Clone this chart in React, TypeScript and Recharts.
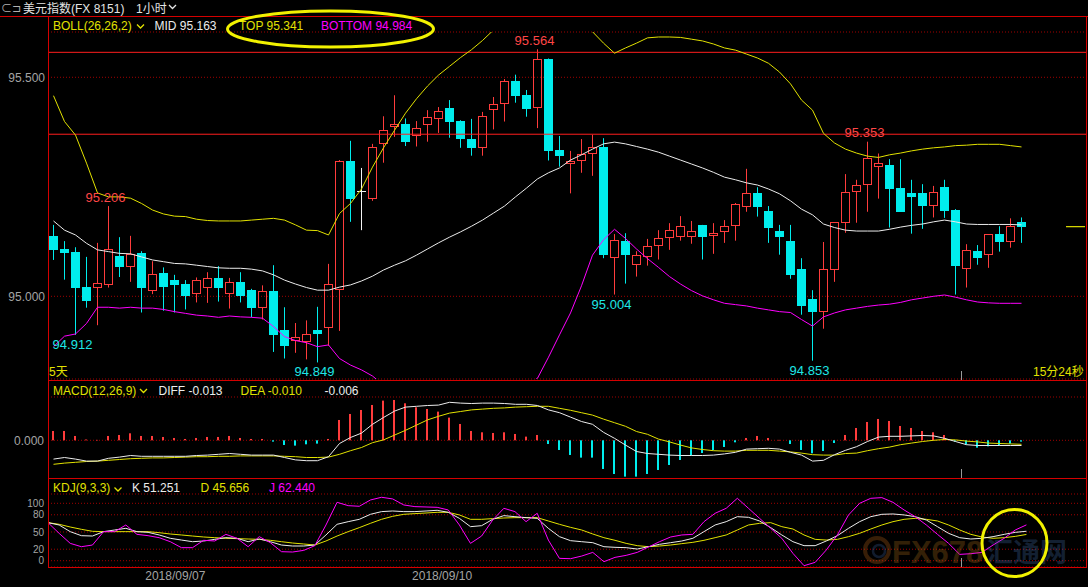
import React from 'react';
import { ComposedChart, Bar, Line, XAxis, YAxis, CartesianGrid, ReferenceLine, ReferenceDot } from 'recharts';

const FONT = '"Liberation Sans", Arial, "Noto Sans CJK SC", sans-serif';
const RED = '#ff3c3c';
const CYAN = '#00eded';
const YELLOW = '#e2e200';
const MAGENTA = '#ff00ff';
const WHITE = '#ececec';
const GRAY = '#a4a4a4';
const FRAME = '#d40000';
const GRID = '#a00000';

const opens = [95.138, 95.108, 95.101, 95.021, 95.018, 95.025, 95.092, 95.068, 95.098, 95.013,
  95.053, 95.037, 95.028, 95.005, 95.018, 95.041, 95.006, 95.032, 95.014, 94.974,
  95.012, 94.922, 94.898, 94.896, 94.923, 94.928, 95.014, 95.309, 95.241, 95.223,
  95.348, 95.387, 95.393, 95.367, 95.392, 95.405, 95.430, 95.400, 95.359, 95.339,
  95.425, 95.438, 95.491, 95.459, 95.429, 95.541, 95.334, 95.301, 95.310, 95.324,
  95.341, 95.087, 95.126, 95.072, 95.089, 95.114, 95.132, 95.135, 95.136, 95.163,
  95.137, 95.146, 95.160, 95.203, 95.235, 95.195, 95.149, 95.126, 95.062, 94.994,
  94.965, 95.061, 95.168, 95.237, 95.253, 95.295, 95.300, 95.247, 95.236, 95.236,
  95.207, 95.250, 95.197, 95.062, 95.103, 95.094, 95.142, 95.125, 95.169];
const highs = [95.163, 95.126, 95.112, 95.090, 95.122, 95.206, 95.135, 95.138, 95.103, 95.080,
  95.066, 95.049, 95.037, 95.043, 95.055, 95.069, 95.042, 95.055, 95.017, 95.025,
  95.071, 94.975, 94.939, 94.945, 94.976, 95.074, 95.311, 95.355, 95.293, 95.348,
  95.411, 95.459, 95.406, 95.400, 95.425, 95.432, 95.448, 95.402, 95.405, 95.421,
  95.455, 95.496, 95.506, 95.471, 95.564, 95.543, 95.366, 95.332, 95.359, 95.369,
  95.361, 95.142, 95.144, 95.103, 95.131, 95.151, 95.167, 95.183, 95.172, 95.163,
  95.167, 95.174, 95.213, 95.291, 95.249, 95.206, 95.163, 95.163, 95.087, 95.014,
  95.124, 95.169, 95.279, 95.266, 95.353, 95.326, 95.313, 95.313, 95.266, 95.256,
  95.252, 95.266, 95.199, 95.119, 95.117, 95.142, 95.160, 95.178, 95.180];
const lows = [95.083, 95.038, 94.912, 94.974, 94.934, 95.020, 95.044, 95.033, 94.963, 95.005,
  94.967, 94.963, 94.970, 94.986, 94.985, 94.988, 94.972, 94.986, 94.952, 94.947,
  94.873, 94.858, 94.871, 94.856, 94.849, 94.887, 94.921, 95.170, 95.151, 95.218,
  95.305, 95.364, 95.343, 95.342, 95.353, 95.373, 95.362, 95.339, 95.321, 95.321,
  95.381, 95.399, 95.442, 95.410, 95.384, 95.310, 95.296, 95.235, 95.282, 95.275,
  95.087, 95.004, 95.029, 95.045, 95.070, 95.084, 95.106, 95.127, 95.120, 95.084,
  95.097, 95.122, 95.127, 95.193, 95.182, 95.122, 95.095, 95.040, 94.958, 94.853,
  94.926, 95.033, 95.145, 95.168, 95.193, 95.223, 95.157, 95.193, 95.143, 95.154,
  95.180, 95.179, 95.004, 95.020, 95.072, 95.065, 95.102, 95.111, 95.122];
const closes = [95.106, 95.099, 95.020, 94.990, 95.030, 95.107, 95.068, 95.097, 95.020, 95.050,
  95.022, 95.026, 95.001, 95.037, 95.041, 95.020, 95.032, 95.001, 94.974, 95.011,
  94.912, 94.886, 94.906, 94.913, 94.914, 95.027, 95.308, 95.222, 95.241, 95.340,
  95.380, 95.393, 95.353, 95.384, 95.409, 95.423, 95.399, 95.358, 95.339, 95.411,
  95.438, 95.491, 95.458, 95.428, 95.541, 95.332, 95.321, 95.310, 95.326, 95.340,
  95.095, 95.128, 95.095, 95.094, 95.114, 95.132, 95.151, 95.160, 95.148, 95.136,
  95.144, 95.160, 95.210, 95.235, 95.205, 95.157, 95.136, 95.049, 94.979, 94.965,
  95.062, 95.169, 95.237, 95.253, 95.315, 95.304, 95.246, 95.193, 95.227, 95.207,
  95.237, 95.195, 95.070, 95.105, 95.088, 95.142, 95.125, 95.160, 95.159];

const bollMid = [95.172, 95.151, 95.140, 95.121, 95.106, 95.102, 95.098, 95.097, 95.090, 95.083,
  95.079, 95.075, 95.074, 95.071, 95.068, 95.065, 95.064, 95.064, 95.062, 95.058,
  95.049, 95.037, 95.028, 95.020, 95.014, 95.014, 95.021, 95.026, 95.035, 95.046,
  95.060, 95.071, 95.081, 95.094, 95.108, 95.122, 95.135, 95.147, 95.160, 95.174,
  95.190, 95.206, 95.227, 95.247, 95.268, 95.282, 95.293, 95.311, 95.323, 95.336,
  95.348, 95.352, 95.348, 95.342, 95.336, 95.329, 95.320, 95.311, 95.302, 95.293,
  95.283, 95.272, 95.266, 95.259, 95.254, 95.245, 95.234, 95.218, 95.199, 95.186,
  95.165, 95.157, 95.151, 95.149, 95.149, 95.149, 95.153, 95.158, 95.162, 95.165,
  95.170, 95.174, 95.170, 95.165, 95.164, 95.164, 95.164, 95.164, 95.163];
const bollTop = [95.458, 95.399, 95.368, 95.304, 95.236, 95.227, 95.227, 95.224, 95.212, 95.197,
  95.188, 95.183, 95.182, 95.176, 95.173, 95.172, 95.172, 95.172, 95.174, 95.176,
  95.178, 95.174, 95.163, 95.151, 95.150, 95.140, 95.189, 95.212, 95.245, 95.295,
  95.339, 95.379, 95.418, 95.451, 95.480, 95.505, 95.525, 95.545, 95.563, 95.584,
  95.608, 95.631, 95.649, 95.665, 95.676, 95.688, 95.676, 95.654, 95.631, 95.604,
  95.578, 95.555, 95.567, 95.578, 95.590, 95.592, 95.592, 95.591, 95.587, 95.583,
  95.576, 95.567, 95.562, 95.553, 95.544, 95.532, 95.512, 95.485, 95.448, 95.425,
  95.372, 95.350, 95.336, 95.327, 95.320, 95.317, 95.323, 95.327, 95.332, 95.336,
  95.339, 95.341, 95.344, 95.345, 95.347, 95.347, 95.347, 95.344, 95.341];
const bollBot = [94.885, 94.909, 94.914, 94.938, 94.975, 94.975, 94.973, 94.975, 94.973, 94.973,
  94.970, 94.965, 94.961, 94.957, 94.955, 94.952, 94.955, 94.953, 94.952, 94.950,
  94.931, 94.908, 94.899, 94.894, 94.885, 94.889, 94.858, 94.843, 94.832, 94.818,
  94.797, 94.775, 94.752, 94.736, 94.722, 94.713, 94.708, 94.708, 94.713, 94.722,
  94.740, 94.763, 94.782, 94.797, 94.813, 94.861, 94.912, 94.962, 95.024, 95.094,
  95.129, 95.153, 95.132, 95.108, 95.086, 95.066, 95.045, 95.028, 95.013, 95.001,
  94.992, 94.984, 94.981, 94.978, 94.973, 94.969, 94.965, 94.963, 94.947, 94.932,
  94.953, 94.962, 94.969, 94.973, 94.977, 94.980, 94.982, 94.986, 94.992, 94.996,
  95.000, 95.003, 94.998, 94.992, 94.987, 94.985, 94.984, 94.984, 94.984];

const macdDiff = [-0.047, -0.043, -0.047, -0.052, -0.052, -0.045, -0.042, -0.038, -0.040, -0.040,
  -0.040, -0.040, -0.040, -0.038, -0.037, -0.035, -0.033, -0.035, -0.037, -0.037,
  -0.037, -0.043, -0.049, -0.051, -0.051, -0.041, -0.008, 0.007, 0.018, 0.040,
  0.057, 0.073, 0.083, 0.085, 0.087, 0.088, 0.095, 0.093, 0.092, 0.093,
  0.093, 0.092, 0.090, 0.090, 0.087, 0.076, 0.069, 0.058, 0.047, 0.040,
  0.020, 0.005, -0.012, -0.028, -0.033, -0.035, -0.037, -0.038, -0.038, -0.038,
  -0.037, -0.034, -0.030, -0.022, -0.021, -0.020, -0.022, -0.030, -0.037, -0.052,
  -0.050, -0.036, -0.025, -0.016, -0.003, 0.008, 0.010, 0.010, 0.011, 0.012,
  0.011, 0.005, -0.003, -0.011, -0.013, -0.013, -0.013, -0.013, -0.013];
const macdDea = [-0.060, -0.057, -0.055, -0.053, -0.052, -0.050, -0.048, -0.046, -0.045, -0.044,
  -0.044, -0.043, -0.042, -0.041, -0.041, -0.040, -0.040, -0.039, -0.039, -0.039,
  -0.039, -0.040, -0.041, -0.043, -0.043, -0.042, -0.035, -0.026, -0.018, -0.006,
  0.001, 0.013, 0.025, 0.038, 0.051, 0.060, 0.068, 0.072, 0.076, 0.078,
  0.080, 0.081, 0.083, 0.084, 0.085, 0.085, 0.080, 0.075, 0.069, 0.063,
  0.053, 0.044, 0.035, 0.022, 0.015, 0.003, -0.004, -0.012, -0.019, -0.023,
  -0.026, -0.027, -0.027, -0.025, -0.025, -0.025, -0.027, -0.029, -0.032, -0.036,
  -0.037, -0.037, -0.033, -0.032, -0.026, -0.021, -0.017, -0.011, -0.007, -0.003,
  0.000, 0.002, 0.001, -0.002, -0.004, -0.007, -0.008, -0.009, -0.010];
const macdHist = [0.0233, 0.0233, 0.0108, 0.002, 0.001, 0.0108, 0.0133, 0.0175, 0.0108, 0.0108,
  0.0083, 0.0058, 0.0033, 0.0058, 0.0083, 0.0083, 0.0108, 0.0058, 0.0033, 0.0033,
  -0.0033, -0.0117, -0.0133, -0.01, -0.0083, 0.0033, 0.0508, 0.0658, 0.0758, 0.0883,
  0.0992, 0.1008, 0.0925, 0.0825, 0.0783, 0.0717, 0.0567, 0.0408, 0.0233, 0.02,
  0.0183, 0.02, 0.0158, 0.0092, 0.0133, -0.0092, -0.0242, -0.0367, -0.0433, -0.0433,
  -0.0717, -0.0842, -0.0908, -0.0908, -0.0842, -0.0742, -0.0617, -0.0492, -0.0383, -0.0317,
  -0.025, -0.0167, -0.005, 0.0058, 0.0108, 0.0058, 0.001, -0.0092, -0.0242, -0.0325,
  -0.0267, -0.0067, 0.0133, 0.0308, 0.0458, 0.0533, 0.0483, 0.0358, 0.0308, 0.0233,
  0.02, 0.0133, -0.0033, -0.0108, -0.0183, -0.015, -0.0133, -0.0083, -0.0033];

const kdjK = [66.3, 62.2, 50.6, 43.6, 43, 50.6, 53.5, 56.4, 50.6, 49.4,
  44.8, 39, 36, 33.1, 34.3, 37.2, 40.1, 39, 33.1, 37.8,
  33.1, 27.3, 25.6, 25.6, 27.3, 44.8, 63.4, 68, 72.1, 80.8,
  85.5, 86.6, 85.5, 85.5, 86.6, 87.8, 84.3, 73.8, 59.3, 61,
  72.1, 78.5, 76.7, 75, 73.8, 56.4, 41.9, 34.9, 33.1, 31.4,
  24.4, 23.3, 22.7, 20.3, 24.4, 28.5, 31.4, 34.3, 39, 50.6,
  62.2, 68, 76.7, 75.6, 69.2, 57.6, 44.8, 33.1, 26.2, 26.2,
  34.3, 43.6, 56.4, 68, 76.7, 80.8, 81.4, 79.7, 76.7, 70.9,
  59.3, 47.7, 40.1, 37.8, 39, 41.9, 45.9, 49.4, 51.3];
const kdjD = [66.3, 63.4, 58.7, 54.7, 51.2, 50.6, 50.6, 50.6, 50.6, 50.6,
  48.8, 46.5, 44.8, 43, 41.3, 40.1, 39, 38.4, 37.8, 37.2,
  35.5, 33.1, 30.8, 29.1, 27.3, 34.3, 43, 50.6, 57.6, 65.1,
  72.1, 77.3, 80.8, 82, 83.1, 84.3, 84.3, 79.7, 72.1, 72.1,
  73.3, 74.4, 75, 75, 75, 69.2, 63.4, 58.1, 53.5, 46.5,
  40.1, 35.5, 30.2, 26.2, 24.4, 25.6, 27.3, 29.7, 32, 35.5,
  40.1, 44.8, 53.5, 62.2, 65.1, 66.3, 59.3, 55.2, 44.8, 37.2,
  36, 37.2, 41.9, 47.7, 55.2, 62.2, 68, 72.1, 73.8, 72.1,
  69.2, 62.2, 53.5, 45.9, 41.3, 39, 40.1, 42.4, 45.7];
const kdjJ = [66.3, 47.7, 30.2, 24.4, 27.3, 50.6, 50.6, 62.2, 45.9, 43.6,
  40.1, 33.1, 22.7, 22.7, 35.5, 34.3, 45.9, 39, 24.4, 41.9,
  31.4, 15.7, 15.1, 18, 26.2, 62.2, 101.7, 95.9, 94.8, 105.8,
  110.5, 107.6, 97.1, 94.2, 93.6, 93, 88.4, 62.2, 30.2, 43,
  70.9, 91.3, 85.5, 68, 82.6, 36, 4.1, 3.5, 8.1, 14.5,
  -1.7, 5.8, 9.3, 14.5, 23.8, 33.1, 41.3, 44.8, 45.9, 68,
  82.6, 91.3, 108.7, 91.3, 73.8, 56.4, 39, 12.8, -8.7, -2.9,
  18.6, 44.8, 79.7, 100, 108.7, 109.9, 101.7, 88.4, 76.7, 62.2,
  45.9, 30.2, 11, 12.2, 14.5, 27.3, 39, 53.5, 62.4];

const SLOTS = 94;
const priceTicks = [95.0, 95.5];
const macdTicks = [0];
const kdjTicks = [0, 20, 50, 80, 100];
const dateTicks = [11, 35];
const dateLabels: Record<number, string> = { 11: '2018/09/07', 35: '2018/09/10' };
const drawnLines = [95.557, 95.370];
const highMarks = [5, 44, 74];
const lowMarks = [2, 24, 51, 69];

const data = Array.from({ length: SLOTS }, (_, i) => {
  if (i >= opens.length) return { i };
  return {
    i, o: opens[i], h: highs[i], l: lows[i], c: closes[i],
    range: [lows[i], highs[i]],
    mid: bollMid[i], top: bollTop[i], bot: bollBot[i],
    diff: macdDiff[i], dea: macdDea[i], hist: macdHist[i],
    k: kdjK[i], d: kdjD[i], j: kdjJ[i],
  };
});

const Candle = (props: any) => {
  const { x, y, width, height, payload } = props;
  if (!payload || payload.o == null || x == null) return null;
  const { o, h, l, c } = payload;
  const y1 = Math.min(y, y + height);
  const y2 = Math.max(y, y + height);
  const span = h - l || 1;
  const py = (v: number) => y1 + ((h - v) / span) * (y2 - y1);
  const cx = x + width / 2;
  const wx = Math.floor(cx) + 0.5;
  const hy = py(h);
  const ly = py(l);
  const bt = Math.round(py(Math.max(o, c)));
  const bb = Math.round(py(Math.min(o, c)));
  const left = Math.round(x);
  const w = Math.round(width);
  if (c === o) {
    return (
      <g>
        <line x1={wx} x2={wx} y1={hy} y2={ly} stroke="#f4f4f4" />
        <line x1={left} x2={left + w} y1={bt + 0.5} y2={bt + 0.5} stroke="#f4f4f4" />
      </g>
    );
  }
  if (c > o) {
    return (
      <g>
        <line x1={wx} x2={wx} y1={hy} y2={bt} stroke={RED} />
        <line x1={wx} x2={wx} y1={bb} y2={ly} stroke={RED} />
        <rect x={left + 0.5} y={bt + 0.5} width={w - 1} height={Math.max(bb - bt - 1, 0)} fill="none" stroke={RED} />
      </g>
    );
  }
  return (
    <g>
      <line x1={wx} x2={wx} y1={hy} y2={ly} stroke={CYAN} />
      <rect x={left} y={bt} width={w} height={Math.max(bb - bt, 1)} fill={CYAN} />
    </g>
  );
};

const HistBar = (props: any) => {
  const { x, y, width, height, payload } = props;
  if (!payload || payload.hist == null || x == null) return null;
  const y1 = Math.min(y, y + height);
  const y2 = Math.max(y, y + height);
  const cx = x + width / 2;
  return <rect x={Math.floor(cx) - 1} y={y1} width={2} height={Math.max(y2 - y1, 0.5)} fill={payload.hist >= 0 ? RED : CYAN} />;
};

const markShape = (text: string, color: string, below: boolean) => (p: any) => (
  <text x={p.cx - 3} y={below ? p.cy + 14 : p.cy - 4.5} textAnchor="middle" fill={color} fontSize={13} fontFamily={FONT}>{text}</text>
);

const tickStyle = { fill: GRAY, fontSize: 12, fontFamily: FONT };
const kdjTickStyle = { fill: GRAY, fontSize: 10, fontFamily: FONT };

const Chev = ({ x, y, color }: { x: number; y: number; color: string }) => (
  <polyline points={`${x},${y} ${x + 3.5},${y + 3.5} ${x + 7},${y}`} fill="none" stroke={color} strokeWidth={1.3} />
);

const T = ({ x, y, color, children, size = 12 }: any) => (
  <text x={x} y={y} fill={color} fontSize={size} fontFamily={FONT}>{children}</text>
);

export default function App() {
  const last = closes[closes.length - 1];
  return (
    <div style={{ position: 'absolute', left: 0, top: 0, width: 1088, height: 587, background: '#000', overflow: 'hidden' }}>
      {/* main price panel */}
      <div style={{ position: 'absolute', left: 0, top: 0 }}>
        <ComposedChart width={1088} height={380} data={data} margin={{ top: 32, right: 2, bottom: 1, left: 0 }}>
          <CartesianGrid vertical={false} stroke={GRID} strokeDasharray="1 2" />
          <XAxis dataKey="i" hide padding={{ left: 0, right: 4 }} />
          <YAxis type="number" domain={[94.8112, 95.6034]} allowDataOverflow ticks={priceTicks} interval={0}
            tickFormatter={(v: number) => v.toFixed(3)} width={48} axisLine={false} tickLine={false}
            tickSize={0} tickMargin={3} tick={tickStyle} />
          {drawnLines.map((v) => (
            <ReferenceLine key={v} y={v} stroke="#ff1e1e" strokeWidth={1} />
          ))}
          <Bar dataKey="range" barSize={9} shape={(p: any) => <Candle {...p} />} isAnimationActive={false} />
          <Line dataKey="top" stroke={YELLOW} strokeWidth={1} dot={false} activeDot={false} isAnimationActive={false} />
          <Line dataKey="mid" stroke={WHITE} strokeWidth={1} dot={false} activeDot={false} isAnimationActive={false} />
          <Line dataKey="bot" stroke={MAGENTA} strokeWidth={1} dot={false} activeDot={false} isAnimationActive={false} />
          {highMarks.map((i) => (
            <ReferenceDot key={'h' + i} x={i} y={highs[i]} r={0} shape={markShape(highs[i].toFixed(3), '#ff4646', false)} />
          ))}
          {lowMarks.map((i) => (
            <ReferenceDot key={'l' + i} x={i} y={lows[i]} r={0} shape={markShape(lows[i].toFixed(3), '#1ee6e6', true)} />
          ))}
          <ReferenceDot x={93} y={last} r={0} shape={(p: any) => (
            <line x1={p.cx - 10.5} x2={p.cx + 8.5} y1={p.cy} y2={p.cy} stroke={YELLOW} strokeWidth={1.2} />
          )} />
        </ComposedChart>
      </div>

      {/* MACD panel */}
      <div style={{ position: 'absolute', left: 0, top: 381 }}>
        <ComposedChart width={1088} height={98} data={data} margin={{ top: 16, right: 2, bottom: 0, left: 0 }}>
          <CartesianGrid vertical={false} stroke={GRID} strokeDasharray="1 2" />
          <XAxis dataKey="i" hide padding={{ left: 0, right: 4 }} />
          <YAxis type="number" domain={[-0.09675, 0.10825]} allowDataOverflow ticks={macdTicks} interval={0}
            tickFormatter={(v: number) => v.toFixed(3)} width={48} axisLine={false} tickLine={false}
            tickSize={0} tickMargin={4} tick={tickStyle} />
          <Bar dataKey="hist" barSize={9} shape={(p: any) => <HistBar {...p} />} isAnimationActive={false} />
          <Line dataKey="dea" stroke={YELLOW} strokeWidth={1} dot={false} activeDot={false} isAnimationActive={false} />
          <Line dataKey="diff" stroke={WHITE} strokeWidth={1} dot={false} activeDot={false} isAnimationActive={false} />
        </ComposedChart>
      </div>

      {/* KDJ panel */}
      <div style={{ position: 'absolute', left: 0, top: 479 }}>
        <ComposedChart width={1088} height={108} data={data} margin={{ top: 15, right: 2, bottom: 0, left: 0 }}>
          <CartesianGrid vertical={false} stroke={GRID} strokeDasharray="1 2" />
          <XAxis dataKey="i" height={20} padding={{ left: 0, right: 4 }} ticks={dateTicks} interval={0}
            tickFormatter={(v: number) => dateLabels[v] || ''} axisLine={false} tickLine={false} tickSize={0}
            tickMargin={4} tick={{ ...tickStyle, dx: 5 }} />
          <YAxis type="number" domain={[-10.98, 116.2]} allowDataOverflow ticks={kdjTicks} interval={0}
            width={48} axisLine={false} tickLine={false} tickSize={0} tickMargin={4} tick={kdjTickStyle} />
          <Line dataKey="d" stroke={YELLOW} strokeWidth={1} dot={false} activeDot={false} isAnimationActive={false} />
          <Line dataKey="k" stroke={WHITE} strokeWidth={1} dot={false} activeDot={false} isAnimationActive={false} />
          <Line dataKey="j" stroke={MAGENTA} strokeWidth={1} dot={false} activeDot={false} isAnimationActive={false} />
        </ComposedChart>
      </div>

      {/* frame, headers and annotations */}
      <svg width={1088} height={587} style={{ position: 'absolute', left: 0, top: 0, pointerEvents: 'none' }}>
        <line x1={0} x2={1088} y1={16.5} y2={16.5} stroke={FRAME} />
        <line x1={48.5} x2={48.5} y1={16} y2={568} stroke={FRAME} />
        <line x1={1086.5} x2={1086.5} y1={16} y2={568} stroke={FRAME} />
        <line x1={48} x2={1087} y1={380.5} y2={380.5} stroke={FRAME} />
        <line x1={48} x2={1087} y1={478.5} y2={478.5} stroke={FRAME} />
        <line x1={48} x2={1087} y1={567.5} y2={567.5} stroke={FRAME} />
        <line x1={961.5} x2={961.5} y1={371} y2={380} stroke="#9a9a9a" />
        <line x1={961.5} x2={961.5} y1={469} y2={478} stroke="#9a9a9a" />
        <line x1={961.5} x2={961.5} y1={558} y2={567} stroke="#9a9a9a" />

        {/* top bar */}
        <T x={1} y={12} color="#b0b0b0" size={11}>⊂⊐</T>
        <text x={23} y={12.5} fill="#e4e4e4" fontSize={12} fontFamily={FONT}>美元指数<tspan fontSize={12}>(FX 8151)</tspan></text>
        <T x={136} y={12.5} color="#e4e4e4">1小时</T>
        <Chev x={169} y={5} color="#e4e4e4" />

        {/* BOLL header */}
        <T x={53} y={29.5} color={YELLOW}>BOLL(26,26,2)</T>
        <Chev x={137} y={24.5} color={YELLOW} />
        <T x={154.5} y={29.5} color={WHITE}>MID 95.163</T>
        <T x={239} y={29.5} color={YELLOW}>TOP 95.341</T>
        <T x={321} y={29.5} color={MAGENTA}>BOTTOM 94.984</T>
        <T x={49} y={375.5} color={YELLOW}>5天</T>
        <T x={1033} y={375.5} color={YELLOW}>15分24秒</T>

        {/* MACD header */}
        <T x={53} y={394.5} color={YELLOW}>MACD(12,26,9)</T>
        <Chev x={140} y={389} color={YELLOW} />
        <T x={158.5} y={394.5} color={WHITE}>DIFF -0.013</T>
        <T x={240.5} y={394.5} color={YELLOW}>DEA -0.010</T>
        <T x={324.5} y={394.5} color={WHITE}>-0.006</T>

        {/* KDJ header */}
        <T x={53} y={492} color={YELLOW}>KDJ(9,3,3)</T>
        <Chev x={114.5} y={487.5} color={YELLOW} />
        <T x={132} y={492} color={WHITE}>K 51.251</T>
        <T x={200.5} y={492} color={YELLOW}>D 45.656</T>
        <T x={269} y={492} color={MAGENTA}>J 62.440</T>

        {/* watermark */}
        <g opacity={0.3}>
          <circle cx={877} cy={550} r={12} fill="none" stroke="#b8651a" strokeWidth={4} />
          <circle cx={879} cy={551} r={6} fill="none" stroke="#3a5f9a" strokeWidth={2.5} />
          <text x={892} y={563} fill="#a86c1a" fontSize={31} fontWeight="bold" fontFamily={FONT}>FX678</text>
          <text x={986} y={562} fill="#3f6aa6" fontSize={27} fontWeight="bold" fontFamily='"Noto Sans CJK SC", sans-serif'>汇通网</text>
        </g>

        {/* yellow hand-drawn marks */}
        <ellipse cx={330.5} cy={29} rx={103} ry={18} fill="none" stroke="#f2f200" strokeWidth={3} />
        <ellipse cx={1014.5} cy={543} rx={32.5} ry={33.5} fill="none" stroke="#f2f200" strokeWidth={3} />
      </svg>
    </div>
  );
}
